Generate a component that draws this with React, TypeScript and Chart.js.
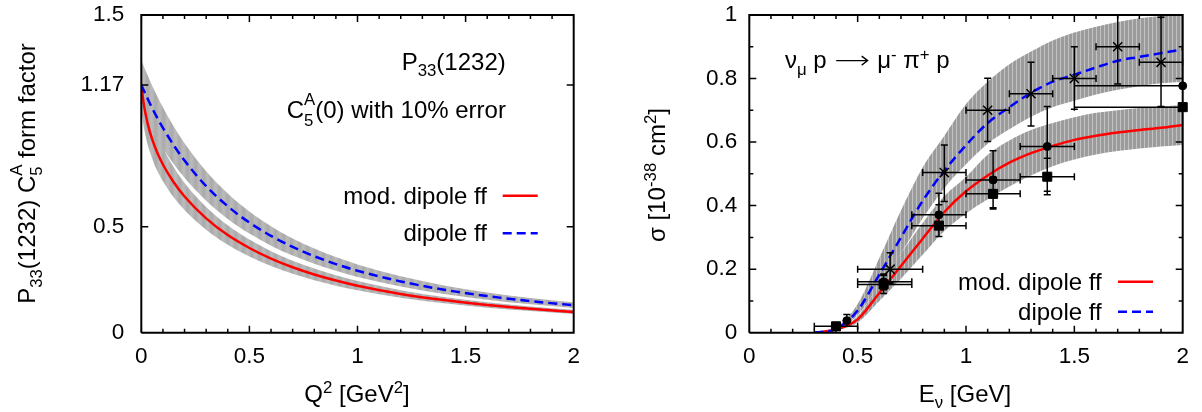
import { useEffect, useRef } from 'react';
import { Chart, registerables } from 'chart.js';

Chart.register(...registerables);

const FONT = '"Liberation Sans", Arial, Helvetica, sans-serif';

// ---------- Left panel: P33(1232) C5A form factor vs Q^2 ----------
const q2 = [0, 0.01, 0.02, 0.03, 0.05, 0.075, 0.1, 0.15, 0.2, 0.3, 0.4, 0.5, 0.6, 0.7, 0.8, 0.9, 1.0, 1.2, 1.4, 1.6, 1.8, 2.0];
const ffMod = [1.17, 1.09, 1.031, 0.985, 0.914, 0.847, 0.794, 0.71, 0.643, 0.54, 0.461, 0.4, 0.35, 0.309, 0.275, 0.2465, 0.222, 0.183, 0.154, 0.131, 0.113, 0.098];
const ffModHi = [1.287, 1.199, 1.134, 1.083, 1.005, 0.932, 0.873, 0.781, 0.707, 0.594, 0.507, 0.44, 0.385, 0.34, 0.303, 0.271, 0.244, 0.201, 0.169, 0.144, 0.124, 0.108];
const ffModLo = [1.053, 0.981, 0.928, 0.886, 0.823, 0.762, 0.715, 0.639, 0.579, 0.486, 0.415, 0.36, 0.315, 0.278, 0.248, 0.222, 0.2, 0.165, 0.139, 0.118, 0.102, 0.088];
const ffDip = [1.17, 1.147, 1.125, 1.103, 1.061, 1.012, 0.967, 0.885, 0.8125, 0.692, 0.597, 0.52, 0.457, 0.405, 0.361, 0.324, 0.2925, 0.242, 0.203, 0.173, 0.149, 0.13];
const ffDipHi = [1.287, 1.262, 1.237, 1.213, 1.167, 1.114, 1.064, 0.973, 0.894, 0.762, 0.657, 0.572, 0.503, 0.445, 0.397, 0.357, 0.322, 0.266, 0.223, 0.19, 0.164, 0.143];
const ffDipLo = [1.053, 1.032, 1.012, 0.993, 0.955, 0.911, 0.87, 0.796, 0.731, 0.623, 0.537, 0.468, 0.411, 0.364, 0.325, 0.292, 0.263, 0.218, 0.183, 0.156, 0.134, 0.117];
const leftXTicks = [0, 0.5, 1, 1.5, 2];
const leftYTicks = [0, 0.5, 1.17, 1.5];

// ---------- Right panel: sigma vs E_nu ----------
const eNu = [0.3, 0.4, 0.5, 0.6, 0.7, 0.8, 0.9, 1.0, 1.1, 1.2, 1.3, 1.4, 1.5, 1.6, 1.7, 1.8, 1.9, 2.0];
const sigMod = [0, 0.01, 0.042, 0.125, 0.21, 0.296, 0.38, 0.445, 0.495, 0.535, 0.565, 0.588, 0.607, 0.62, 0.63, 0.638, 0.645, 0.654];
const sigModHi = [0, 0.013, 0.052, 0.152, 0.25, 0.345, 0.43, 0.49, 0.56, 0.605, 0.638, 0.66, 0.678, 0.692, 0.7, 0.707, 0.712, 0.717];
const sigModLo = [0, 0.007, 0.032, 0.1, 0.17, 0.245, 0.32, 0.375, 0.42, 0.46, 0.495, 0.524, 0.545, 0.561, 0.572, 0.58, 0.586, 0.591];
const sigDip = [0, 0.012, 0.07, 0.183, 0.3, 0.415, 0.51, 0.59, 0.66, 0.71, 0.755, 0.79, 0.812, 0.835, 0.856, 0.868, 0.88, 0.892];
const sigDipHi = [0, 0.016, 0.09, 0.235, 0.385, 0.52, 0.62, 0.72, 0.79, 0.845, 0.885, 0.92, 0.945, 0.963, 0.978, 0.99, 0.997, 1.0];
const sigDipLo = [0, 0.009, 0.055, 0.15, 0.25, 0.36, 0.455, 0.53, 0.595, 0.64, 0.68, 0.71, 0.73, 0.75, 0.765, 0.776, 0.785, 0.79];

// data points (crosses, circles, squares)
const crossE = [0.65, 0.9, 1.1, 1.3, 1.5, 1.7, 1.9];
const crossSig = [0.2, 0.504, 0.7, 0.752, 0.8, 0.9, 0.851];
const crossElo = [0.5, 0.8, 1.0, 1.2, 1.4, 1.6, 1.8];
const crossEhi = [0.8, 1.0, 1.2, 1.4, 1.6, 1.8, 2.0];
const crossSigLo = [0.156, 0.413, 0.602, 0.651, 0.703, 0.783, 0.712];
const crossSigHi = [0.252, 0.591, 0.801, 0.851, 0.9, 1.017, 0.993];

const circE = [0.45, 0.62, 0.875, 1.125, 1.375, 2.0];
const circSig = [0.038, 0.16, 0.371, 0.481, 0.586, 0.777];
const circElo = [0.45, 0.5, 0.75, 1.0, 1.25, 1.5];
const circEhi = [0.45, 0.75, 1.0, 1.25, 1.5, 2.5];
const circSigLo = [0.02, 0.135, 0.303, 0.389, 0.445, 0.777];
const circSigHi = [0.057, 0.185, 0.439, 0.573, 0.712, 0.777];

const sqE = [0.4, 0.62, 0.875, 1.125, 1.375, 2.0];
const sqSig = [0.02, 0.152, 0.337, 0.437, 0.491, 0.71];
const sqElo = [0.3, 0.5, 0.75, 1.0, 1.25, 1.5];
const sqEhi = [0.5, 0.75, 1.0, 1.25, 1.5, 2.5];
const sqSigLo = [0.008, 0.123, 0.303, 0.393, 0.434, 0.71];
const sqSigHi = [0.032, 0.18, 0.403, 0.49, 0.549, 0.71];

const rightXTicks = [0, 0.5, 1, 1.5, 2];
const rightYTicks = [0, 0.2, 0.4, 0.6, 0.8, 1];
const minorX = [0.1, 0.2, 0.3, 0.4, 0.6, 0.7, 0.8, 0.9, 1.1, 1.2, 1.3, 1.4, 1.6, 1.7, 1.8, 1.9];
const minorYRight = [0.1, 0.3, 0.5, 0.7, 0.9];

// ---------- helpers ----------
const pts = (xs: number[], ys: number[]) => xs.map((x, i) => ({ x, y: ys[i] }));
const TXT = 24;

type Seg = [string, number?];
// kind: 0 normal, 1 sub, 2 sup, 3 stacked sup (no advance), 4 stacked sub, 5 long arrow
function drawRich(ctx: CanvasRenderingContext2D, segs: Seg[], x: number, y: number, align: 'left' | 'right' | 'center', size: number) {
  let w = 0;
  let pending = 0;
  const items: { t: string; fs: number; x: number; dy: number; k: number; w: number }[] = [];
  ctx.save();
  for (const [t, k = 0] of segs) {
    const fs = k === 0 || k === 5 ? size : size * 0.7;
    ctx.font = `${fs}px ${FONT}`;
    const tw = k === 5 ? size * 1.55 : ctx.measureText(t).width;
    const dy = k === 1 ? 0.28 * size : k === 2 ? -0.36 * size : k === 3 ? -0.55 * size : k === 4 ? 0.3 * size : 0;
    items.push({ t, fs, x: w, dy, k, w: tw });
    if (k === 3) pending = tw;
    else {
      w += Math.max(tw, pending);
      pending = 0;
    }
  }
  const x0 = align === 'left' ? x : align === 'right' ? x - w : x - w / 2;
  ctx.fillStyle = '#000';
  ctx.textBaseline = 'alphabetic';
  ctx.textAlign = 'left';
  for (const it of items) {
    if (it.k === 5) {
      const ax1 = x0 + it.x + size * 0.12;
      const ax2 = x0 + it.x + it.w - size * 0.12;
      const ay = y - size * 0.32;
      ctx.strokeStyle = '#000';
      ctx.lineWidth = 1.3;
      ctx.beginPath();
      ctx.moveTo(ax1, ay);
      ctx.lineTo(ax2, ay);
      ctx.moveTo(ax2 - 6, ay - 4.5);
      ctx.lineTo(ax2, ay);
      ctx.lineTo(ax2 - 6, ay + 4.5);
      ctx.stroke();
      continue;
    }
    ctx.font = `${it.fs}px ${FONT}`;
    ctx.fillText(it.t, x0 + it.x, y + it.dy);
  }
  ctx.restore();
}

function legendLine(ctx: CanvasRenderingContext2D, x1: number, x2: number, y: number, color: string, dash: number[]) {
  ctx.save();
  ctx.strokeStyle = color;
  ctx.lineWidth = 2.5;
  ctx.setLineDash(dash);
  ctx.beginPath();
  ctx.moveTo(x1, y);
  ctx.lineTo(x2, y);
  ctx.stroke();
  ctx.restore();
}

function rotTitle(ctx: CanvasRenderingContext2D, segs: Seg[], bx: number, cy: number, size: number) {
  ctx.save();
  ctx.translate(bx, cy);
  ctx.rotate(-Math.PI / 2);
  drawRich(ctx, segs, 0, 0, 'center', size);
  ctx.restore();
}

function makePattern(cols: string[]) {
  const c = document.createElement('canvas');
  c.width = cols.length;
  c.height = 1;
  const g = c.getContext('2d')!;
  cols.forEach((col, i) => {
    g.fillStyle = col;
    g.fillRect(i, 0, 1, 1);
  });
  return g.createPattern(c, 'repeat')!;
}

const tickFont = { family: FONT, size: 22.5 };

function band(data: any, fill: any, bg: any) {
  return {
    data,
    borderColor: 'rgba(0,0,0,0)',
    borderWidth: 0,
    pointRadius: 0,
    fill,
    backgroundColor: bg,
    cubicInterpolationMode: 'monotone',
    order: 5,
  };
}

function curve(data: any, color: string, dash: number[], order: number) {
  return {
    data,
    borderColor: color,
    borderWidth: 2.5,
    borderDash: dash,
    pointRadius: 0,
    fill: false,
    cubicInterpolationMode: 'monotone',
    order,
  };
}

// tick marks drawn as library points ('line' style), clipped to the plot area so only the inner half shows
function tickSet(data: { x: number; y: number }[], rot: number, len: number) {
  return {
    data,
    showLine: false,
    pointStyle: 'line',
    pointRotation: rot,
    pointRadius: len,
    pointBorderColor: '#000',
    pointBorderWidth: 1.5,
    borderColor: '#000',
    backgroundColor: '#000',
    clip: 0,
    order: -20,
  };
}

function frameSets(xMajor: number[], xMinor: number[], yMajor: number[], yMinor: number[], xMax: number, yMax: number) {
  const sets: any[] = [
    {
      data: [
        { x: 0, y: 0 },
        { x: xMax, y: 0 },
        { x: xMax, y: yMax },
        { x: 0, y: yMax },
        { x: 0, y: 0 },
      ],
      showLine: true,
      borderColor: '#000',
      borderWidth: 2,
      pointRadius: 0,
      fill: false,
      tension: 0,
      clip: false,
      order: -30,
    },
    tickSet(xMajor.map((v) => ({ x: v, y: 0 })).concat(xMajor.map((v) => ({ x: v, y: yMax }))), 90, 7),
    tickSet(xMinor.map((v) => ({ x: v, y: 0 })).concat(xMinor.map((v) => ({ x: v, y: yMax }))), 90, 4),
    tickSet(yMajor.map((v) => ({ x: 0, y: v })).concat(yMajor.map((v) => ({ x: xMax, y: v }))), 0, 7),
  ];
  if (yMinor.length) sets.push(tickSet(yMinor.map((v) => ({ x: 0, y: v })).concat(yMinor.map((v) => ({ x: xMax, y: v }))), 0, 4));
  return sets;
}

function axes(xTicks: number[], yTicks: number[], yMax: number, yW: number, yPad: number) {
  return {
    x: {
      type: 'linear',
      min: 0,
      max: 2,
      grid: { display: false, drawTicks: false },
      border: { display: false },
      afterBuildTicks: (s: any) => {
        s.ticks = xTicks.map((v) => ({ value: v }));
      },
      afterFit: (s: any) => {
        s.height = 79.3;
        s.paddingLeft = 0;
        s.paddingRight = 0;
      },
      ticks: { font: tickFont, color: '#000', padding: 11, maxRotation: 0, autoSkip: false, callback: (v: any) => String(v) },
    },
    y: {
      type: 'linear',
      min: 0,
      max: yMax,
      grid: { display: false, drawTicks: false },
      border: { display: false },
      afterBuildTicks: (s: any) => {
        s.ticks = yTicks.map((v) => ({ value: v }));
      },
      afterFit: (s: any) => {
        s.width = yW;
        s.paddingTop = 0;
        s.paddingBottom = 0;
      },
      ticks: { font: tickFont, color: '#000', padding: yPad, autoSkip: false, callback: (v: any) => String(v) },
    },
  };
}

export default function App() {
  const leftRef = useRef<HTMLCanvasElement>(null);
  const rightRef = useRef<HTMLCanvasElement>(null);

  useEffect(() => {
    const patL = makePattern(['#b8b8b8', '#b3b3b3', '#aeaeae', '#ababab', '#adadad', '#b2b2b2', '#b7b7b7', '#bababa']);
    const patR = makePattern(['#9c9c9c', '#9a9a9a', '#9c9c9c', '#c2c2c2']);

    const leftText = {
      id: 'leftText',
      afterDraw(chart: any) {
        const ctx = chart.ctx as CanvasRenderingContext2D;
        drawRich(ctx, [['P'], ['33', 1], ['(1232)']], 401.7, 69.5, 'left', TXT);
        drawRich(ctx, [['C'], ['A', 3], ['5', 4], ['(0) with 10% error']], 286.7, 118.3, 'left', TXT);
        drawRich(ctx, [['mod. dipole ff']], 487, 204, 'right', TXT);
        legendLine(ctx, 502.7, 537.7, 195.7, '#ff0000', []);
        drawRich(ctx, [['dipole ff']], 487, 240.7, 'right', TXT);
        legendLine(ctx, 502.7, 537.7, 233.3, '#0000ff', [9, 5]);
        drawRich(ctx, [['Q'], ['2', 2], [' [GeV'], ['2', 2], [']']], 357, 401.7, 'center', TXT);
        rotTitle(ctx, [['P'], ['33', 1], ['(1232) C'], ['A', 3], ['5', 4], [' form factor']], 35, 173.5, TXT);
      },
    };

    const errGroups = [
      { E: crossE, s: crossSig, el: crossElo, eh: crossEhi, sl: crossSigLo, sh: crossSigHi },
      { E: circE, s: circSig, el: circElo, eh: circEhi, sl: circSigLo, sh: circSigHi },
      { E: sqE, s: sqSig, el: sqElo, eh: sqEhi, sl: sqSigLo, sh: sqSigHi },
    ];

    const rightText = {
      id: 'rightText',
      afterDatasetsDraw(chart: any) {
        const ctx = chart.ctx as CanvasRenderingContext2D;
        const xs = chart.scales.x;
        const ys = chart.scales.y;
        const L = xs.getPixelForValue(0);
        const R = xs.getPixelForValue(2);
        const T = ys.getPixelForValue(1);
        const B = ys.getPixelForValue(0);
        ctx.save();
        ctx.beginPath();
        ctx.rect(L, T - 1, R - L + 1, B - T + 2);
        ctx.clip();
        ctx.setLineDash([]);
        ctx.strokeStyle = '#000';
        ctx.lineWidth = 1.5;
        ctx.beginPath();
        errGroups.forEach((g) =>
          g.E.forEach((e, i) => {
            const px = xs.getPixelForValue(e);
            const py = ys.getPixelForValue(g.s[i]);
            if (g.el[i] !== g.eh[i]) {
              const x1 = xs.getPixelForValue(g.el[i]);
              const x2 = xs.getPixelForValue(g.eh[i]);
              ctx.moveTo(x1, py);
              ctx.lineTo(x2, py);
              ctx.moveTo(x1, py - 3.5);
              ctx.lineTo(x1, py + 3.5);
              ctx.moveTo(x2, py - 3.5);
              ctx.lineTo(x2, py + 3.5);
            }
            if (g.sl[i] !== g.sh[i]) {
              const y1 = ys.getPixelForValue(g.sl[i]);
              const y2 = ys.getPixelForValue(g.sh[i]);
              ctx.moveTo(px, y1);
              ctx.lineTo(px, y2);
              ctx.moveTo(px - 3.5, y1);
              ctx.lineTo(px + 3.5, y1);
              ctx.moveTo(px - 3.5, y2);
              ctx.lineTo(px + 3.5, y2);
            }
          })
        );
        ctx.stroke();
        ctx.restore();
      },
      afterDraw(chart: any) {
        const ctx = chart.ctx as CanvasRenderingContext2D;
        drawRich(ctx, [['ν'], ['μ', 1], [' p '], ['', 5], [' μ'], ['-', 2], [' π'], ['+', 2], [' p']], 184, 68.3, 'left', TXT);
        drawRich(ctx, [['mod. dipole ff']], 500.7, 290, 'right', TXT);
        legendLine(ctx, 517, 552, 281.7, '#ff0000', []);
        drawRich(ctx, [['dipole ff']], 500.7, 320, 'right', TXT);
        legendLine(ctx, 517, 552, 311.7, '#0000ff', [9, 5]);
        drawRich(ctx, [['E'], ['ν', 1], [' [GeV]']], 364, 401.7, 'center', TXT);
        rotTitle(ctx, [['σ [10'], ['-38', 2], [' cm'], ['2', 2], [']']], 64, 175, TXT);
      },
    };

    const common = (rightPad: number) => ({
      responsive: false,
      animation: false as const,
      events: [] as any[],
      layout: { padding: { left: 0, right: rightPad, top: 15, bottom: 0 } },
      plugins: { legend: { display: false }, tooltip: { enabled: false } },
    });

    const c1 = new Chart(leftRef.current!, {
      type: 'line',
      data: {
        datasets: [
          band(pts(q2, ffModLo), false, 'rgba(0,0,0,0)'),
          band(pts(q2, ffModHi), '-1', patL),
          band(pts(q2, ffDipLo), false, 'rgba(0,0,0,0)'),
          band(pts(q2, ffDipHi), '-1', patL),
          curve(pts(q2, ffMod), '#ff0000', [], 1),
          curve(pts(q2, ffDip), '#0000ff', [9, 5], 0),
          ...frameSets(leftXTicks, minorX, leftYTicks, [], 2, 1.5),
        ] as any,
      },
      options: {
        ...common(27.3),
        scales: axes(leftXTicks, leftYTicks, 1.5, 141.3, 17),
      } as any,
      plugins: [leftText],
    });

    const c2 = new Chart(rightRef.current!, {
      type: 'line',
      data: {
        datasets: [
          band(pts(eNu, sigModLo), false, 'rgba(0,0,0,0)'),
          band(pts(eNu, sigModHi), '-1', patR),
          band(pts(eNu, sigDipLo), false, 'rgba(0,0,0,0)'),
          band(pts(eNu, sigDipHi), '-1', patR),
          curve(pts(eNu, sigMod), '#ff0000', [], 1),
          curve(pts(eNu, sigDip), '#0000ff', [9, 5], 0),
          {
            data: pts(crossE, crossSig),
            showLine: false,
            pointStyle: 'crossRot',
            pointRadius: 6.4,
            borderColor: '#000',
            backgroundColor: '#000',
            pointBorderWidth: 1.5,
            clip: false,
            order: -1,
          },
          {
            data: pts(circE, circSig),
            showLine: false,
            pointStyle: 'circle',
            pointRadius: 4,
            borderColor: '#000',
            backgroundColor: '#000',
            pointBorderWidth: 1,
            clip: false,
            order: -2,
          },
          {
            data: pts(sqE, sqSig),
            showLine: false,
            pointStyle: 'rect',
            pointRadius: 6.4,
            borderColor: '#000',
            backgroundColor: '#000',
            pointBorderWidth: 1,
            clip: false,
            order: -3,
          },
          ...frameSets(rightXTicks, minorX, rightYTicks, minorYRight, 2, 1),
        ] as any,
      },
      options: {
        ...common(19.3),
        scales: axes(rightXTicks, rightYTicks, 1, 148.3, 12),
      } as any,
      plugins: [rightText],
    });

    return () => {
      c1.destroy();
      c2.destroy();
    };
  }, []);

  return (
    <div style={{ position: 'fixed', left: 0, top: 0, width: 1202, height: 412, background: '#fff' }}>
      <canvas ref={leftRef} width={601} height={412} style={{ position: 'absolute', left: 0, top: 0, width: 601, height: 412 }} />
      <canvas ref={rightRef} width={601} height={412} style={{ position: 'absolute', left: 601, top: 0, width: 601, height: 412 }} />
    </div>
  );
}
